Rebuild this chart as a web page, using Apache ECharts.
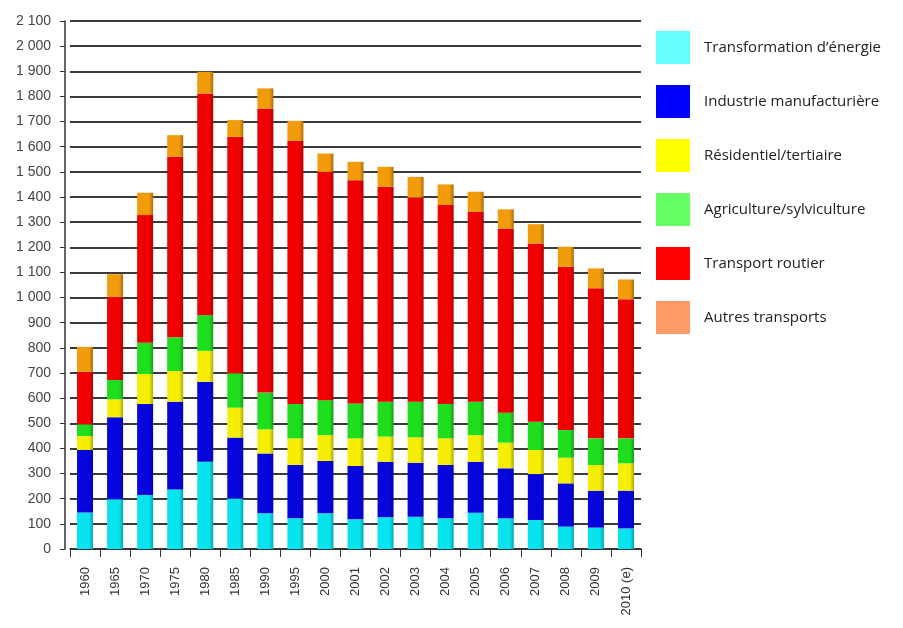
<!DOCTYPE html>
<html lang="fr">
<head>
    <meta charset="UTF-8">
    <title>Emissions par secteur</title>
    <style>
        html, body { margin: 0; padding: 0; background: #fff; }
    </style>
</head>
<body>
    <div id="main" style="width:903px; height:628px;"></div>
    <script src="https://cdn.jsdelivr.net/npm/echarts@6/dist/echarts.min.js"></script>
    <script>
        // données
        var years = ['1960', '1965', '1970', '1975', '1980', '1985', '1990', '1995', '2000', '2001',
            '2002', '2003', '2004', '2005', '2006', '2007', '2008', '2009', '2010 (e)'];
        var transformation = [145, 198, 215, 237, 347, 201, 142, 122, 142, 118, 126, 128, 122, 144, 122, 115, 89, 85, 82];
        var industrie = [249, 326, 362, 349, 318, 242, 238, 212, 208, 212, 221, 215, 212, 203, 199, 183, 172, 147, 150];
        var residentiel = [55, 71, 119, 122, 123, 119, 96, 106, 103, 110, 100, 101, 106, 106, 102, 96, 102, 102, 109];
        var agriculture = [47, 77, 124, 134, 142, 137, 146, 137, 139, 139, 139, 142, 137, 133, 119, 112, 110, 106, 99];
        var routier = [209, 331, 508, 718, 882, 940, 1130, 1046, 908, 888, 855, 812, 791, 755, 733, 709, 649, 597, 553];
        var autres = [99, 90, 89, 86, 86, 67, 80, 80, 73, 73, 79, 82, 82, 80, 76, 77, 80, 79, 79];

        var names = ['Transformation d\u2019énergie', 'Industrie manufacturière', 'Résidentiel/tertiaire',
            'Agriculture/sylviculture', 'Transport routier', 'Autres transports'];
        var barColors = ['#08e4ee', '#0505dc', '#f6ee05', '#1ede1e', '#f00000', '#f29c0c'];
        var legendColors = ['#66ffff', '#0000ff', '#ffff00', '#66ff66', '#ff0000', '#ff9966'];
        var values = [transformation, industrie, residentiel, agriculture, routier, autres];

        var myChart = echarts.init(document.getElementById('main'));

        var series = [];
        for (var i = 0; i < names.length; i++) {
            series.push({
                name: names[i],
                type: 'bar',
                stack: 'total',
                barWidth: 16,
                itemStyle: {
                    color: {
                        type: 'linear', x: 0, y: 0, x2: 1, y2: 0,
                        colorStops: [
                            { offset: 0, color: barColors[i] },
                            { offset: 0.75, color: barColors[i] },
                            { offset: 1, color: echarts.color.modifyHSL(barColors[i], null, null, 0.35) }
                        ]
                    }
                },
                data: values[i]
            });
        }

        myChart.setOption({
            animation: false,
            grid: { left: 70, right: 262, top: 21, bottom: 79 },
            legend: {
                orient: 'vertical',
                left: 651,
                top: 26,
                itemWidth: 34,
                itemHeight: 33,
                itemGap: 21,
                icon: 'rect',
                textStyle: { fontFamily: 'Open Sans', fontSize: 15, color: '#222', padding: [0, 0, 0, 9] },
                data: names.map(function (n, i) {
                    return { name: n, itemStyle: { color: legendColors[i] } };
                })
            },
            xAxis: {
                type: 'category',
                data: years,
                axisLine: { lineStyle: { color: '#333', width: 1.5 } },
                axisTick: { show: true, length: 8, lineStyle: { color: '#333' } },
                axisLabel: {
                    rotate: 90,
                    interval: 0,
                    margin: 18,
                    fontFamily: 'Liberation Sans',
                    fontSize: 13,
                    color: '#333'
                }
            },
            yAxis: {
                type: 'value',
                min: 0,
                max: 2100,
                interval: 100,
                offset: 5,
                axisLine: { show: true, lineStyle: { color: '#333', width: 1.5 } },
                axisTick: { show: true, length: 5, lineStyle: { color: '#333' } },
                axisLabel: {
                    margin: 14,
                    fontFamily: 'Liberation Sans',
                    fontSize: 14,
                    color: '#444',
                    formatter: function (v) {
                        return String(v).replace(/\B(?=(\d{3})+(?!\d))/g, ' ');
                    }
                },
                splitLine: { lineStyle: { color: '#3a3a3a', width: 2 } }
            },
            series: series
        });
    </script>
</body>
</html>
